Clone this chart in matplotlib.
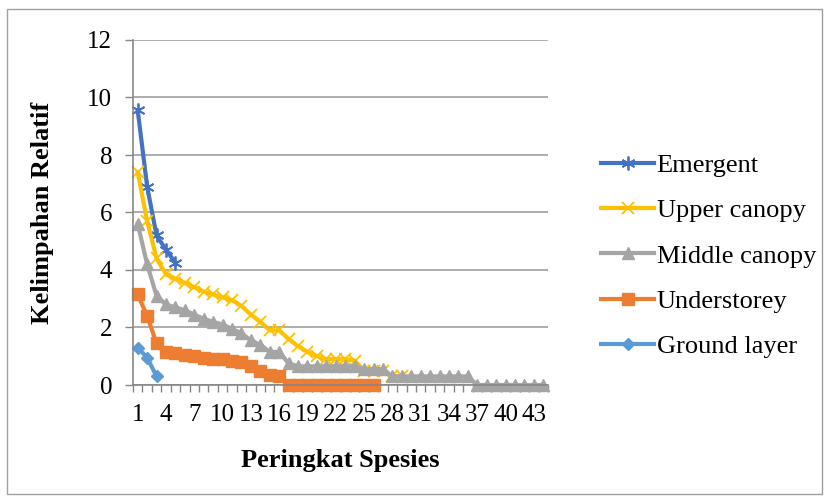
import numpy as np
import matplotlib
matplotlib.use("Agg")
import matplotlib.pyplot as plt
from matplotlib.patches import Rectangle

plt.rcParams['font.family'] = ['Liberation Serif', 'DejaVu Serif']

# relative abundance per species rank, one list per forest layer
emergent = [9.55, 6.9, 5.2, 4.7, 4.25]
upper_canopy = [7.4, 5.7, 4.4, 3.85, 3.7, 3.55, 3.4, 3.25, 3.15, 3.05,
                2.95, 2.75, 2.45, 2.2, 1.9, 1.9, 1.6, 1.35, 1.15, 1.0,
                0.9, 0.9, 0.9, 0.85, 0.5, 0.5, 0.5, 0.3, 0.3]
middle_canopy = [5.6, 4.2, 3.1, 2.8, 2.7, 2.6, 2.45, 2.3, 2.2, 2.1,
                 1.95, 1.8, 1.55, 1.4, 1.15, 1.15, 0.75, 0.65, 0.65, 0.65,
                 0.65, 0.65, 0.65, 0.65, 0.55, 0.55, 0.55,
                 0.3, 0.3, 0.3, 0.3, 0.3, 0.3, 0.3, 0.3, 0.3,
                 0, 0, 0, 0, 0, 0, 0, 0]
understorey = [3.15, 2.4, 1.45, 1.15, 1.1, 1.05, 1.0, 0.95, 0.9, 0.9,
               0.85, 0.8, 0.65, 0.5, 0.35, 0.3,
               0, 0, 0, 0, 0, 0, 0, 0, 0, 0]
ground_layer = [1.3, 0.95, 0.3]

n_ranks = 44
tick_labels = [str(i) for i in range(1, n_ranks + 1, 3)]

series = [
    ('Emergent', emergent, '#4472C4', (6, 2, 0), 10, 1.3),
    ('Upper canopy', upper_canopy, '#FFC000', 'x', 8, 1.3),
    ('Middle canopy', middle_canopy, '#A5A5A5', '^', 8.5, 1),
    ('Understorey', understorey, '#ED7D31', 's', 8.5, 1),
    ('Ground layer', ground_layer, '#5B9BD5', 'D', 6.5, 1),
]

fig = plt.figure(figsize=(8.28, 4.98), dpi=100)
ax = fig.add_axes([133 / 828, 1 - 385 / 498, 415 / 828, 345 / 498])

for name, vals, col, mk, ms, mew in series:
    x = np.arange(1, len(vals) + 1)
    ax.plot(x, vals, color=col, lw=3, marker=mk, ms=ms, mew=mew,
            mec=col, mfc=col, label=name, clip_on=False)

ax.set_xlim(0.5, n_ranks + 0.5)
ax.set_ylim(0, 12)
ax.set_yticks(np.arange(0, 13, 2))
ax.yaxis.grid(True, color='#A0A0A0', lw=1.2)
ax.set_axisbelow(True)

ax.set_xticks(np.arange(0.5, n_ranks + 1, 1))
ax.set_xticklabels([])
ax.set_xticks(np.arange(1, n_ranks + 1, 3), minor=True)
ax.set_xticklabels(tick_labels, minor=True)
ax.tick_params(axis='x', which='major', length=5, color='#868686', width=1)
ax.tick_params(axis='x', which='minor', length=0, labelsize=18, pad=14)
ax.tick_params(axis='y', length=6, color='#868686', width=1, labelsize=18, pad=9)

for s in ['top', 'right']:
    ax.spines[s].set_visible(False)
for s in ['left', 'bottom']:
    ax.spines[s].set_color('#868686')
    ax.spines[s].set_linewidth(1.2)

ax.set_xlabel('Peringkat Spesies', fontsize=19, fontweight='bold', labelpad=16)
ax.set_ylabel('Kelimpahan Relatif', fontsize=19, fontweight='bold', labelpad=24)

fig.legend(loc='center left', bbox_to_anchor=(588 / 828, 1 - 256 / 498),
           frameon=False, fontsize=19, handlelength=2.0, handletextpad=0.1,
           labelspacing=0.83, borderpad=0)

fig.patches.append(Rectangle((7 / 828, 4 / 498), 815 / 828, 485 / 498,
                             transform=fig.transFigure, fill=False,
                             edgecolor='#A0A0A0', lw=1))

fig.savefig('out.png', dpi=100)
